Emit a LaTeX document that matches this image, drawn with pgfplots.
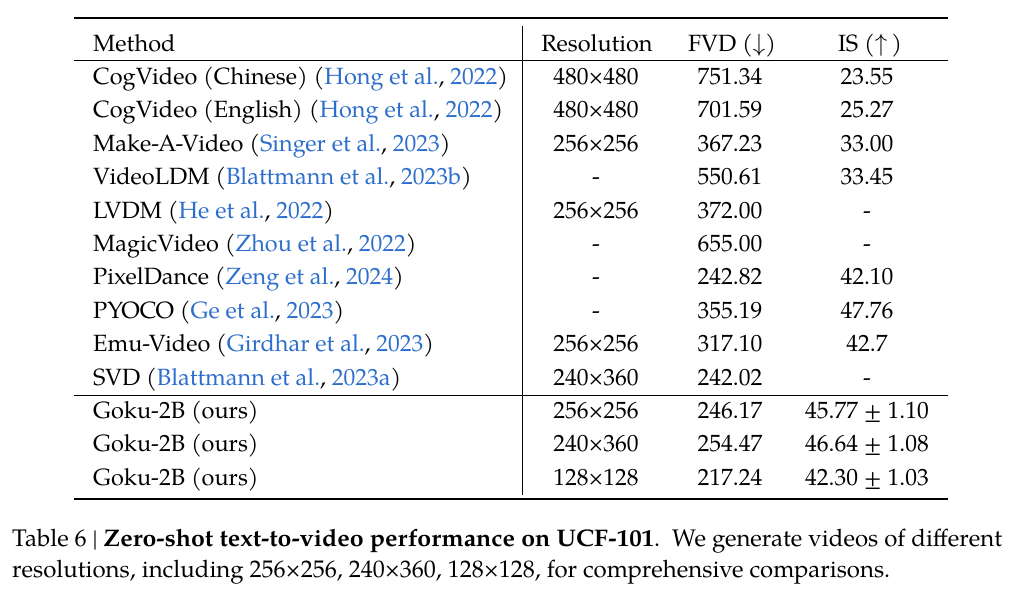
\documentclass[border=0pt]{standalone}
\usepackage{pgfplots}
\pgfplotsset{compat=1.18}
\usepackage{fontspec}
\setmainfont{TeX Gyre Pagella}
\definecolor{citeblue}{RGB}{45,110,205}
\newcommand{\ci}[1]{\textcolor{citeblue}{#1}}
\newcommand{\trow}[5]{%
  \node[anchor=base west] at (axis cs:93,#1) {#2};
  \node[anchor=base] at (axis cs:596,#1) {#3};
  \node[anchor=base] at (axis cs:730,#1) {#4};
  \node[anchor=base] at (axis cs:867,#1) {#5};}
\begin{document}
\fontsize{23.5}{28}\selectfont
\begin{tikzpicture}[every node/.append style={font=\fontsize{23.5}{28}\selectfont, inner sep=0pt}]
\begin{axis}[
  scale only axis, width=1028pt, height=592pt,
  xmin=0, xmax=1028, ymin=0, ymax=592, y dir=reverse,
  axis lines=none, clip=false,
]
\path (axis cs:0,0) rectangle (axis cs:1028,592);
% rules
\draw[line width=1.8pt] (axis cs:74,18) -- (axis cs:948,18);
\draw[line width=1pt] (axis cs:74,60) -- (axis cs:948,60);
\draw[line width=1pt] (axis cs:74,395) -- (axis cs:948,395);
\draw[line width=1.8pt] (axis cs:74,499) -- (axis cs:948,499);
\draw[line width=1pt] (axis cs:522.5,26) -- (axis cs:522.5,495);
% header
\node[anchor=base west] at (axis cs:93,51) {Method};
\node[anchor=base] at (axis cs:597,51) {Resolution};
\node[anchor=base] at (axis cs:732,51) {FVD ($\downarrow$)};
\node[anchor=base] at (axis cs:870,51) {IS ($\uparrow$\,)};
% rows
\trow{84.5}{CogVideo (Chinese) (\ci{Hong et al.}, \ci{2022})}{480×480}{751.34}{23.55}
\trow{117.9}{CogVideo (English) (\ci{Hong et al.}, \ci{2022})}{480×480}{701.59}{25.27}
\trow{151.3}{Make-A-Video (\ci{Singer et al.}, \ci{2023})}{256×256}{367.23}{33.00}
\trow{184.7}{VideoLDM (\ci{Blattmann et al.}, \ci{2023b})}{-}{550.61}{33.45}
\trow{218.1}{LVDM (\ci{He et al.}, \ci{2022})}{256×256}{372.00}{-}
\trow{251.5}{MagicVideo (\ci{Zhou et al.}, \ci{2022})}{-}{655.00}{-}
\trow{284.9}{PixelDance (\ci{Zeng et al.}, \ci{2024})}{-}{242.82}{42.10}
\trow{318.3}{PYOCO (\ci{Ge et al.}, \ci{2023})}{-}{355.19}{47.76}
\trow{351.7}{Emu-Video (\ci{Girdhar et al.}, \ci{2023})}{256×256}{317.10}{42.7}
\trow{385.1}{SVD (\ci{Blattmann et al.}, \ci{2023a})}{240×360}{242.02}{-}
\trow{418.5}{Goku-2B (ours)}{256×256}{246.17}{45.77 ± 1.10}
\trow{451.9}{Goku-2B (ours)}{240×360}{254.47}{46.64 ± 1.08}
\trow{485.3}{Goku-2B (ours)}{128×128}{217.24}{42.30 ± 1.03}
% caption
\node[anchor=base west, font=\fontsize{24}{28}\selectfont] at (axis cs:12,546) {Table 6 | \scalebox{1.04}[1]{\textbf{Zero-shot text-to-video performance on UCF-101}}.\ \ We generate videos of different};
\node[anchor=base west, font=\fontsize{24}{28}\selectfont] at (axis cs:12,577) {resolutions, including 256×256, 240×360, 128×128, for comprehensive comparisons.};
\end{axis}
\end{tikzpicture}
\end{document}
